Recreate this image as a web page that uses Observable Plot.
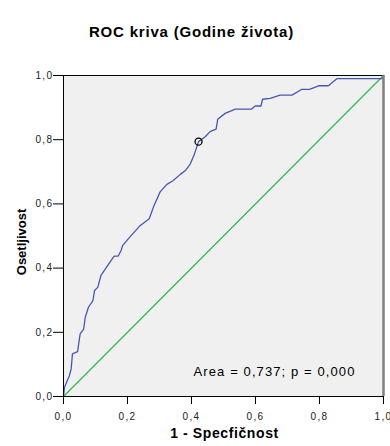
<!DOCTYPE html>
<html>
<head>
<meta charset="utf-8">
<script src="https://cdn.jsdelivr.net/npm/d3@7"></script>
<script src="https://cdn.jsdelivr.net/npm/@observablehq/plot@0.6"></script>
<style>
  html, body { margin: 0; padding: 0; background: white; }
</style>
</head>
<body>
<div id="chart"></div>
<script>
// ROC curve points (1 - specificity, sensitivity)
const fpr = [0, 0.003, 0.010, 0.018, 0.024, 0.028, 0.044, 0.052, 0.063, 0.068, 0.078, 0.092, 0.097, 0.107, 0.117, 0.156, 0.159, 0.171, 0.180, 0.185, 0.203, 0.240, 0.268, 0.281, 0.302, 0.323, 0.342, 0.365, 0.382, 0.396, 0.408, 0.422, 0.443, 0.458, 0.477, 0.482, 0.505, 0.537, 0.587, 0.599, 0.617, 0.622, 0.646, 0.677, 0.714, 0.745, 0.769, 0.797, 0.828, 0.854, 0.998, 1];
const tpr = [0, 0.028, 0.045, 0.064, 0.086, 0.133, 0.140, 0.195, 0.210, 0.247, 0.278, 0.299, 0.330, 0.340, 0.377, 0.434, 0.4375, 0.4375, 0.455, 0.471, 0.492, 0.533, 0.554, 0.590, 0.6375, 0.661, 0.672, 0.692, 0.705, 0.724, 0.752, 0.794, 0.809, 0.825, 0.833, 0.864, 0.882, 0.895, 0.895, 0.905, 0.905, 0.926, 0.929, 0.939, 0.939, 0.957, 0.957, 0.968, 0.968, 0.990, 0.990, 1];
// reference (chance) diagonal
const refLine = [0, 1];
// highlighted cut-off point
const cutoffX = [0.422];
const cutoffY = [0.794];
// ticks
const xTicks = [0, 0.2, 0.4, 0.6, 0.8, 1.0];
const yTicks = [0, 0.2, 0.4, 0.6, 0.8, 1.0];
const title = "ROC kriva (Godine života)";
const xLabel = "1 - Specfičnost";
const yLabel = "Osetljivost";
const annotation = "Area = 0,737; p = 0,000";

const fmt = d => d.toFixed(1).replace(".", ",");
const curve = fpr.map((x, i) => ({x, y: tpr[i]}));
const cut = cutoffX.map((x, i) => ({x, y: cutoffY[i]}));

const chart = Plot.plot({
  width: 390,
  height: 446,
  marginLeft: 63,
  marginRight: 7,
  marginTop: 75,
  marginBottom: 50,
  style: {fontFamily: "'Liberation Sans', Arial, sans-serif", background: "white", color: "#222"},
  x: {domain: [0, 1]},
  y: {domain: [0, 1]},
  marks: [
    Plot.frame({fill: "#f0f0f0", stroke: null}),
    Plot.axisX({ticks: xTicks, tickFormat: fmt, tickSize: 8, tickPadding: 8, fontSize: 10, label: null, stroke: "black", fill: "#222"}),
    Plot.axisY({ticks: yTicks, tickFormat: fmt, tickSize: 10, tickPadding: 0, fontSize: 10, label: null, stroke: "black", fill: "#222"}),
    Plot.line(refLine, {x: d => d, y: d => d, stroke: "#2dbb48", strokeWidth: 1.2}),
    Plot.line(curve, {x: "x", y: "y", stroke: "#4559b2", strokeWidth: 1.3}),
    Plot.dot(cut, {x: "x", y: "y", r: 3.5, stroke: "black", strokeWidth: 1.3, fill: "none"}),
    Plot.ruleY([1], {stroke: "black", strokeWidth: 1}),
    Plot.ruleX([1], {stroke: "#7f7f7f", strokeWidth: 2.5}),
    Plot.ruleX([0], {stroke: "black", strokeWidth: 1}),
    Plot.ruleY([0], {stroke: "black", strokeWidth: 1}),
    Plot.text([annotation], {frameAnchor: "bottom-right", textAnchor: "end", dx: -28, dy: -21, fontSize: 13, fill: "black"}),
    Plot.text([title], {frameAnchor: "top", textAnchor: "middle", dx: -32, dy: -49, fontSize: 15, fontWeight: "bold", fill: "black"}),
    Plot.text([xLabel], {frameAnchor: "bottom", textAnchor: "middle", dx: 1, dy: 41, fontSize: 14, fontWeight: "bold", fill: "black"}),
    Plot.text([yLabel], {frameAnchor: "left", textAnchor: "middle", rotate: -90, dx: -42, dy: 6, fontSize: 13, fontWeight: "bold", fill: "black"})
  ]
});

document.getElementById("chart").appendChild(chart);

// letter spacing to match the wide rendering of the original
const svg = d3.select(chart);
svg.selectAll('g[aria-label="x-axis tick label"] text, g[aria-label="y-axis tick label"] text').style("letter-spacing", "1.4px");
svg.selectAll('g[aria-label="text"] text').each(function () {
  const t = this.textContent;
  if (t === title) this.style.letterSpacing = "0.8px";
  else if (t === annotation) this.style.letterSpacing = "1.1px";
  else if (t === xLabel) this.style.letterSpacing = "0.6px";
});
</script>
</body>
</html>
